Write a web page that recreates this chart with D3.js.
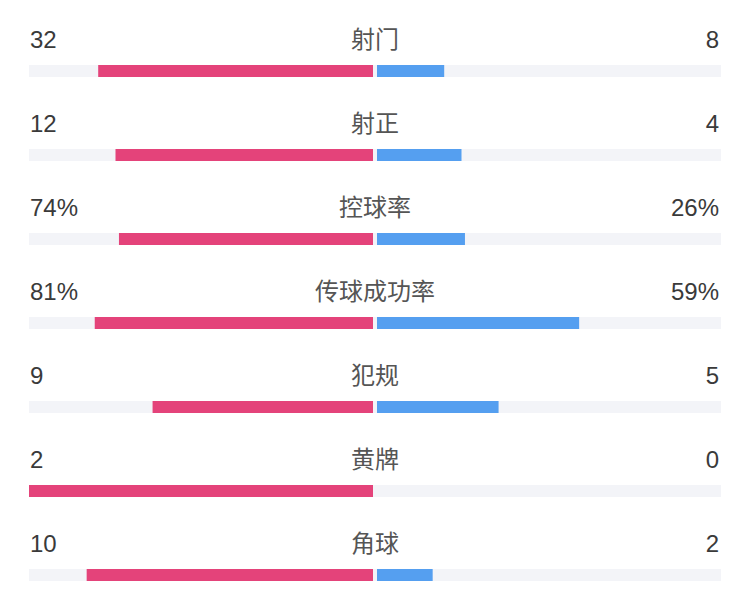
<!DOCTYPE html>
<html>
<head>
<meta charset="utf-8">
<script src="https://cdn.jsdelivr.net/npm/d3@7"></script>
<style>
  body { margin: 0; background: #fff; }
  svg { display: block; }
  .num { font-family: "Liberation Sans", Roboto, sans-serif; font-size: 24px; fill: #3a3a3a; }
  .lbl { font-family: "Noto Sans CJK SC", sans-serif; font-size: 24px; fill: #555; }
</style>
</head>
<body>
<svg id="chart" width="750" height="607"></svg>
<script>
// match stats
const statNames = ['射门', '射正', '控球率', '传球成功率', '犯规', '黄牌', '角球']
const homeValues = [32, 12, 74, 81, 9, 2, 10]
const awayValues = [8, 4, 26, 59, 5, 0, 2]
const isPercent = [false, false, true, true, false, false, false]

const width = 750
const trackLeft = 29, trackRight = 721, center = 375, gap = 2
const rowTop = 48, rowStep = 84, barOffset = 17, barH = 12
const homeColor = '#e4437a', awayColor = '#559ff0', trackColor = '#f3f4f8'

const svg = d3.select('#chart')

const rowY = d3.scaleLinear().domain([0, 1]).range([rowTop, rowTop + rowStep])

statNames.forEach(function(name, i){
    const total = isPercent[i] ? 100 : (homeValues[i] + awayValues[i]) || 1
    const half = center - trackLeft
    // one scale per row, value -> length out from the middle
    const len = d3.scaleLinear().domain([0, total]).range([0, half])
    const fmt = v => isPercent[i] ? v + '%' : String(v)

    const y = rowY(i)
    const g = svg.append('g').attr('class', 'row')

    g.append('rect')
        .attr('x', trackLeft).attr('y', y + barOffset)
        .attr('width', trackRight - trackLeft).attr('height', barH)
        .style('fill', trackColor)

    const hw = len(homeValues[i])
    if (hw > 0){
        g.append('rect')
            .attr('x', center - hw).attr('y', y + barOffset)
            .attr('width', hw - gap).attr('height', barH)
            .style('fill', homeColor)
    }
    const aw = len(awayValues[i])
    if (aw > 0){
        g.append('rect')
            .attr('x', center + gap).attr('y', y + barOffset)
            .attr('width', aw - gap).attr('height', barH)
            .style('fill', awayColor)
    }

    g.append('text').attr('class', 'num')
        .attr('x', trackLeft + 1).attr('y', y)
        .text(fmt(homeValues[i]))
    g.append('text').attr('class', 'num')
        .attr('x', trackRight - 2).attr('y', y)
        .attr('text-anchor', 'end')
        .text(fmt(awayValues[i]))
    g.append('text').attr('class', 'lbl')
        .attr('x', center).attr('y', y)
        .attr('text-anchor', 'middle')
        .text(name)
})
</script>
</body>
</html>
